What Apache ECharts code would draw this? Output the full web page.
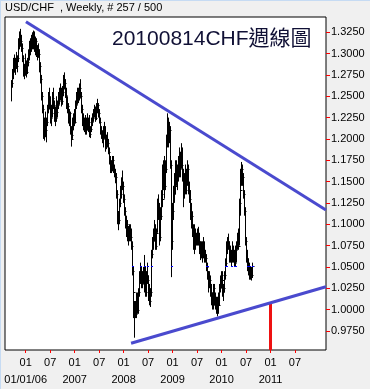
<!DOCTYPE html>
<html><head><meta charset="utf-8">
<script src="https://cdn.jsdelivr.net/npm/echarts@6/dist/echarts.min.js"></script>
<style>
html,body{margin:0;padding:0;background:#f0f0f0;overflow:hidden;}
#c{width:370px;height:389px;}
#et{position:absolute;left:0;top:0;width:370px;height:1px;background:#c6dbf3;}
#el{position:absolute;left:0;top:0;width:1px;height:389px;background:#c6dbf3;}
</style>
</head><body><div id="c"></div><div id="et"></div><div id="el"></div>
<script>
// ---- data (weekly bars, prices in pips: 12650 = 1.2650) ----
const headerText = 'USD/CHF  , Weekly, # 257 / 500';
const titleText = '20100814CHF週線圖';
const firstWeek = '2005-09-16';
const highs = [
12690,12820,12950,12990,12950,13020,12980,13180,13260,13290,
13220,13120,12980,12880,12950,13000,12920,12950,13050,13150,
13180,13220,13250,13270,13260,13200,13180,13100,13120,13050,
12900,12750,12550,12400,12300,12250,12320,12250,12400,12550,
12600,12500,12400,12550,12600,12450,12380,12450,12500,12450,
12550,12600,12650,12600,12620,12750,12780,12700,12600,12500,
12420,12350,12320,12150,12100,12250,12300,12350,12450,12550,
12600,12600,12650,12700,12550,12400,12300,12250,12280,12250,
12300,12250,12280,12200,12150,12250,12300,12350,12400,12380,
12420,12470,12420,12350,12250,12150,12100,12080,12150,12200,
12150,12050,12080,12000,11900,11800,11750,11800,11800,11700,
11650,11600,11400,11250,11150,11300,11450,11550,11630,11500,
11350,11200,11100,11050,10980,11000,11000,10950,10800,10500,
10250,10100,10100,10200,10200,10250,10450,10550,10500,10450,
10500,10640,10500,10450,10550,10400,10350,10300,10250,10700,
10850,10950,11050,11000,10950,11300,11350,11250,11200,11400,
11500,11700,11750,11800,11750,12050,12300,12250,12200,12150,
11750,11250,11450,11600,11700,11750,11750,11700,11800,11900,
11850,11950,11900,11650,11600,11700,11650,11750,11700,11500,
11400,11250,11150,11000,10950,11000,10950,10900,10950,10970,
10900,10800,10800,10800,10850,10800,10700,10650,10550,10450,
10450,10450,10400,10300,10200,10300,10300,10200,10150,10150,
10200,10300,10400,10450,10450,10400,10300,10450,10600,10800,
10850,10890,10800,10750,10700,10800,10750,10700,10750,10800,
10900,10950,11300,11450,11650,11730,11700,11600,11400,11200,
10850,10700,10600,10550,10500,10500,10550];
const lows = [
12440,12600,12700,12780,12750,12820,12780,12900,13050,13080,
13020,12900,12730,12700,12740,12800,12720,12760,12850,12920,
12980,13020,13050,13050,13020,12980,12960,12920,12950,12780,
12650,12450,12300,12150,12000,11980,12020,11960,12150,12300,
12350,12180,12150,12250,12350,12200,12150,12200,12280,12250,
12350,12400,12450,12380,12400,12500,12580,12480,12350,12300,
12180,12150,12050,11950,11910,12000,12100,12150,12180,12350,
12400,12420,12450,12480,12300,12150,12100,12080,12050,12050,
12100,12080,12100,12020,12010,12080,12150,12200,12250,12200,
12220,12300,12250,12180,12050,12000,11950,11900,11980,12000,
11850,11880,11900,11820,11700,11600,11600,11620,11600,11550,
11480,11300,11050,11000,10930,11000,11200,11300,11400,11250,
11100,10950,10850,10800,10750,10800,10800,10700,10400,10150,
9900,9670,9900,9900,9950,9950,10150,10300,10250,10250,
10300,10200,10150,10150,10300,10150,10100,10050,10030,10150,
10600,10700,10800,10700,10700,10900,11050,10750,10800,11050,
11200,11300,11400,11300,11400,11600,11900,11900,11950,11650,
10380,10700,11050,11250,11350,11400,11450,11400,11500,11550,
11550,11650,11500,11200,11300,11350,11350,11450,11350,11250,
11050,10950,10850,10700,10650,10700,10700,10750,10750,10750,
10650,10580,10600,10550,10600,10550,10550,10450,10350,10200,
10250,10250,10150,10050,10000,10000,10050,10000,9950,9920,
9950,10050,10200,10250,10250,10150,10100,10200,10350,10500,
10650,10700,10550,10550,10500,10550,10550,10500,10500,10550,
10700,10700,10750,11100,11350,11450,11450,11300,11100,10750,
10550,10450,10400,10350,10350,10340,10370];
const closes = [
12650,12780,12920,12850,12900,12860,12950,13120,13180,13150,
13060,12950,12800,12780,12900,12860,12780,12900,13000,13080,
13100,13150,13120,13200,13080,13150,13020,13050,13000,12850,
12700,12500,12350,12200,12080,12180,12100,12200,12350,12450,
12400,12250,12300,12480,12400,12280,12250,12400,12320,12400,
12450,12550,12500,12450,12550,12700,12650,12520,12400,12380,
12220,12300,12080,12000,12050,12200,12250,12200,12400,12450,
12520,12480,12600,12500,12350,12200,12150,12200,12100,12200,
12150,12200,12120,12060,12120,12200,12250,12300,12350,12250,
12380,12400,12300,12200,12100,12050,12000,12050,12100,12050,
11950,12000,11950,11850,11750,11650,11700,11750,11650,11600,
11550,11350,11150,11100,11050,11250,11350,11500,11450,11300,
11150,11000,11000,10900,10850,10950,10850,10750,10450,10200,
9950,10050,9950,10150,10000,10200,10400,10450,10300,10400,
10350,10450,10200,10400,10350,10200,10250,10100,10200,10650,
10800,10850,10950,10750,10900,11200,11100,10850,11100,11350,
11300,11550,11600,11450,11650,11950,12150,12000,12100,11700,
10800,11150,11350,11500,11450,11650,11550,11600,11700,11650,
11800,11700,11550,11400,11450,11400,11600,11650,11400,11300,
11150,11100,10900,10750,10850,10800,10850,10800,10850,10800,
10700,10650,10700,10750,10700,10600,10600,10500,10400,10300,
10350,10350,10200,10100,10050,10250,10100,10050,10050,10100,
10050,10250,10350,10400,10350,10200,10250,10400,10550,10750,
10800,10750,10650,10650,10600,10700,10650,10550,10700,10750,
10850,10750,11250,11400,11550,11650,11550,11350,11150,10800,
10600,10550,10450,10400,10400,10400,10506];
const lastPrice = 1.0506;
const yTickValues = [0.975,1.000,1.025,1.050,1.075,1.100,1.125,1.150,1.175,1.200,1.225,1.250,1.275,1.300,1.325];
const xTickMonths = [0,6,12,18,24,30,36,42,48,54,60,66];
const monthLabels = ['01','07','01','07','01','07','01','07','01','07','01','07'];
const yearLabels = ['01/01/06','','2007','','2008','','2009','','2010','','2011',''];
const upperTrend = [['2006-01-03',1.3374],['2012-02-18',1.1167]];
const lowerTrend = [['2008-02-25',0.9605],['2012-02-18',1.0268]];
const markerDate = '2011-01-01';

// ---- helpers ----
function monthsSince2006(d){
  const y=d.getUTCFullYear(), mo=d.getUTCMonth(), day=d.getUTCDate();
  const dim=new Date(Date.UTC(y,mo+1,0)).getUTCDate();
  return (y-2006)*12+mo+(day-1)/dim;
}
function parseDate(s){const p=s.split('-').map(Number);return new Date(Date.UTC(p[0],p[1]-1,p[2]));}
const start=parseDate(firstWeek);
const bars=highs.map((h,i)=>{
  const d=new Date(start.getTime()+i*7*86400000);
  return [monthsSince2006(d), h/10000, lows[i]/10000, closes[i]/10000];
});
const toXY=p=>[monthsSince2006(parseDate(p[0])),p[1]];
const up=upperTrend.map(toXY), lo=lowerTrend.map(toXY);
const mm=monthsSince2006(parseDate(markerDate));
const markerTop=lo[0][1]+(mm-lo[0][0])/(lo[1][0]-lo[0][0])*(lo[1][1]-lo[0][1]);
const Y_MIN=0.9526, Y_MAX=1.3429, X_MIN=-5.07, X_MAX=73.6;
const labelFor=(arr,v)=>{const k=xTickMonths.indexOf(Math.round(v));return k<0?'':arr[k];};

const FONT='"Liberation Sans", Arial, sans-serif';
const chart=echarts.init(document.getElementById('c'),null,{renderer:'canvas'});
const xCommon={type:'value',min:X_MIN,max:X_MAX,splitLine:{show:false},axisLine:{show:false,onZero:false}};
chart.setOption({
  animation:false,
  backgroundColor:'#f0f0f0',
  grid:{left:5,top:17,right:44,bottom:39,show:true,borderColor:'#000',borderWidth:1,backgroundColor:'#fff'},
  xAxis:[
    Object.assign({},xCommon,{
      axisTick:{show:true,length:3,lineStyle:{color:'#ff0000'},customValues:xTickMonths},
      axisLabel:{customValues:xTickMonths,margin:7,color:'#000',fontSize:11,fontFamily:FONT,hideOverlap:false,
        showMinLabel:true,showMaxLabel:true,formatter:v=>labelFor(monthLabels,v)}}),
    Object.assign({},xCommon,{position:'bottom',offset:17,
      axisTick:{show:false},
      axisLabel:{customValues:xTickMonths,margin:7,color:'#000',fontSize:11,fontFamily:FONT,hideOverlap:false,
        showMinLabel:true,showMaxLabel:true,formatter:v=>labelFor(yearLabels,v)}})
  ],
  yAxis:{type:'value',position:'right',min:Y_MIN,max:Y_MAX,
    axisLine:{show:false,onZero:false},splitLine:{show:false},
    axisTick:{show:true,length:4,lineStyle:{color:'#ff0000'},customValues:yTickValues},
    axisLabel:{customValues:yTickValues,margin:5,color:'#000',fontSize:11,fontFamily:FONT,formatter:v=>v.toFixed(4)}
  },
  graphic:[
    {type:'text',left:5,top:2,style:{text:headerText,fontSize:11,fontFamily:FONT,fill:'#000'}},
    {type:'text',x:112,y:29,style:{text:titleText,fontSize:21,fontFamily:'"Liberation Sans","Noto Sans CJK TC",sans-serif',fill:'#101035'}}
  ],
  series:[
    {type:'custom',clip:true,data:bars,
      renderItem:(params,api)=>{
        const m=api.value(0),h=api.value(1),l=api.value(2),c=api.value(3);
        const pH=api.coord([m,h]),pL=api.coord([m,l]),pC=api.coord([m,c]);
        const x=Math.round(pH[0])+0.5;
        const yc=Math.round(pC[1])+0.5;
        const ch=[
          {type:'line',shape:{x1:x,y1:pH[1],x2:x,y2:pL[1]},style:{stroke:'#000',lineWidth:1}},
          {type:'line',shape:{x1:x,y1:yc,x2:x+2,y2:yc},style:{stroke:'#000',lineWidth:1}}
        ];
        if(l<=lastPrice&&lastPrice<=h){
          const yp=Math.round(api.coord([m,lastPrice])[1])+0.5;
          ch.push({type:'line',shape:{x1:x-0.5,y1:yp,x2:x+1.5,y2:yp},style:{stroke:'#0000ff',lineWidth:1}});
        }
        return {type:'group',children:ch};
      }
    },
    {type:'line',data:up,showSymbol:false,symbol:'none',lineStyle:{color:'#4a4ace',width:3},clip:true,z:3},
    {type:'line',data:lo,showSymbol:false,symbol:'none',lineStyle:{color:'#4a4ace',width:3},clip:true,z:3},
    {type:'line',data:[[mm,markerTop],[mm,Y_MIN]],showSymbol:false,symbol:'none',lineStyle:{color:'#ee1111',width:3},clip:true,z:2},
    {type:'line',data:[],clip:false,
      markLine:{silent:true,symbol:['none','none'],data:[{yAxis:lastPrice}],lineStyle:{opacity:0},
        label:{show:true,position:'end',distance:2,formatter:lastPrice.toFixed(4),color:'#0000ff',fontSize:11,fontFamily:FONT,
          borderColor:'#ff0000',borderWidth:1,padding:[1,2,0,2]}}}
  ]
});
</script>
</body></html>
